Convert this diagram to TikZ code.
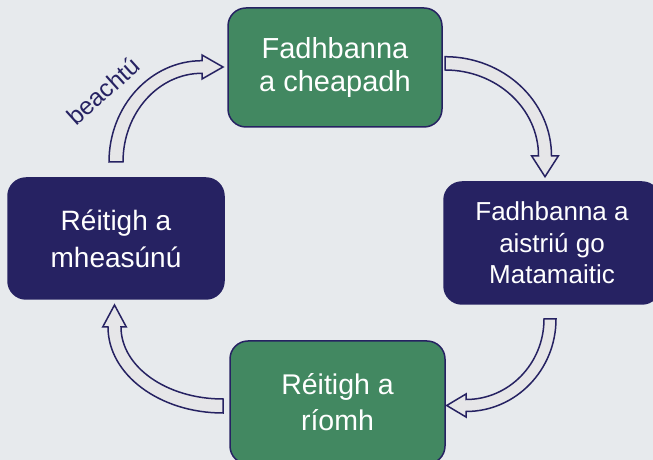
\documentclass[tikz,border=0pt]{standalone}
\usepackage{fontspec}
\setmainfont{Liberation Sans}
\definecolor{navy}{HTML}{262262}
\definecolor{boxgreen}{HTML}{428861}
\definecolor{bg}{HTML}{E7EAED}
\definecolor{arrowfill}{HTML}{E6E6E8}
\begin{document}
\begin{tikzpicture}[x=1pt,y=1pt,
  box/.style={rounded corners=18pt, draw=navy, line width=1.5pt, text=white, align=center, inner sep=0pt},
  greenbox/.style={box, fill=boxgreen},
  navybox/.style={box, fill=navy},
  blockarrow/.style={draw=navy, line width=1.5pt, fill=arrowfill, line join=miter},
  lbl/.style={text=navy, inner sep=0pt}]
\fill[bg] (0,0) rectangle (653,460);
\useasboundingbox (0,0) rectangle (653,460);
% block arrows
\draw[blockarrow] (109,298) arc[start angle=180, end angle=90, x radius=93, y radius=101.3] -- (202,405) -- (223,393) -- (202,381) -- (202,386.7) arc[start angle=90, end angle=180, x radius=79, y radius=88.7] -- cycle;
\draw[blockarrow] (445,403.3) arc[start angle=90, end angle=0, x radius=106.5, y radius=99.3] -- (558.3,304) -- (545,283.3) -- (531.7,304) -- (538.5,304) arc[start angle=0, end angle=90, x radius=93.5, y radius=86] -- cycle;
\draw[blockarrow] (556,141) arc[start angle=0, end angle=-90, x radius=90, y radius=92.5] -- (466,43) -- (446.7,54.5) -- (466,66) -- (466,60.5) arc[start angle=-90, end angle=0, x radius=78, y radius=80.5] -- cycle;
\draw[blockarrow] (223,47) arc[start angle=270, end angle=180, x radius=115, y radius=86] -- (102.7,133) -- (114.5,155) -- (126.3,133) -- (121,133) arc[start angle=180, end angle=270, x radius=102, y radius=72] -- cycle;
% boxes
\node[greenbox, minimum width=214pt, minimum height=119pt, font=\fontsize{29}{33.3}\selectfont] (pose) at (335,392.5) {Fadhbanna\\a cheapadh};
\node[navybox, minimum width=216pt, minimum height=122pt, font=\fontsize{26}{31.5}\selectfont] (trans) at (552,217) {Fadhbanna a\\aistriú go\\Matamaitic};
\node[greenbox, minimum width=215pt, minimum height=123pt, font=\fontsize{28.5}{36}\selectfont] (calc) at (337.5,57.5) {Réitigh a\\ríomh};
\node[navybox, minimum width=216pt, minimum height=121pt, font=\fontsize{28}{37}\selectfont] (eval) at (116,221.5) {Réitigh a\\mheasúnú};
\node[lbl, rotate=42, font=\fontsize{24.5}{28}\selectfont] (refine) at (103,369) {beachtú};
\end{tikzpicture}
\end{document}
